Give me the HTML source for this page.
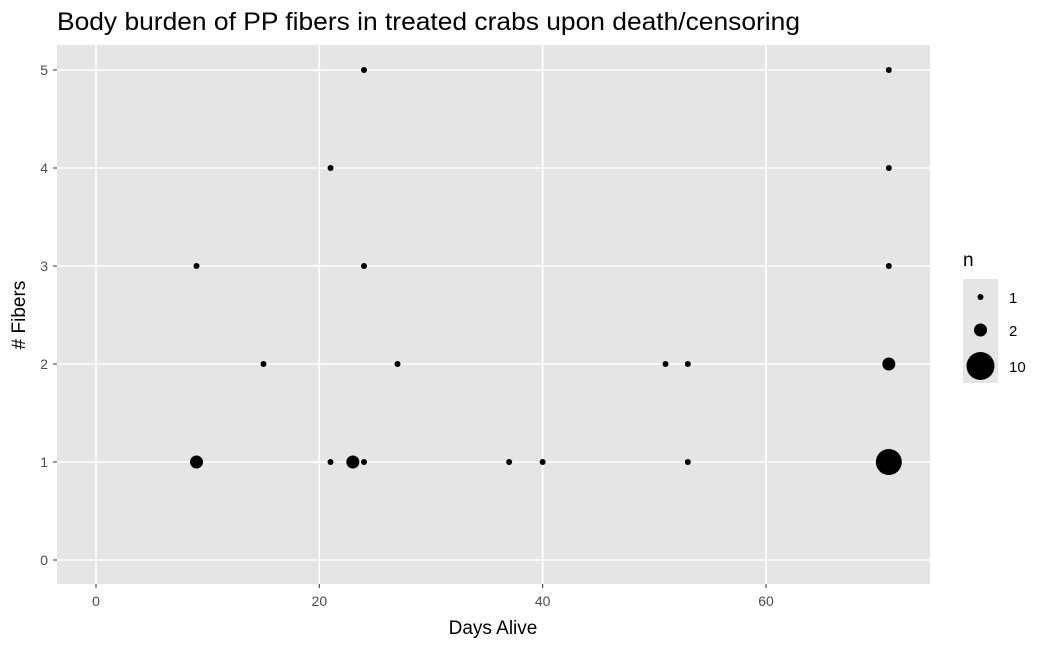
<!DOCTYPE html>
<html><head><meta charset="utf-8"><style>
body{margin:0;background:#fff;font-family:"Liberation Sans",Arial,sans-serif}
</style></head><body>
<svg id="c" width="1050" height="648" xmlns="http://www.w3.org/2000/svg">
<text x="57" y="30" font-size="25" textLength="743" lengthAdjust="spacingAndGlyphs" fill="#000">Body burden of PP fibers in treated crabs upon death/censoring</text>
<rect x="57" y="45" width="873" height="539" fill="#e5e5e5"/>
<g id="grid"></g><g id="pts"></g><g id="axes"></g>
<text x="493" y="634" font-size="19" text-anchor="middle">Days Alive</text>
<text transform="translate(25,315) rotate(-90)" font-size="19" text-anchor="middle"># Fibers</text>
<g>
<text x="963" y="266" font-size="19">n</text>
<rect x="963" y="279" width="35" height="104" fill="#e5e5e5"/>
<circle cx="980.5" cy="297" r="3" fill="#000"/>
<circle cx="980.5" cy="330" r="6.5" fill="#000"/>
<circle cx="980.5" cy="366" r="14" fill="#000"/>
<text x="1009" y="303" font-size="15">1</text>
<text x="1009" y="336" font-size="15">2</text>
<text x="1009" y="372" font-size="15">10</text>
</g>
</svg>
<script>
const days=[9,9,15,21,21,23,24,24,24,27,37,40,51,53,53,71,71,71,71,71];
const fibers=[3,1,2,4,1,1,5,3,1,2,1,1,2,2,1,5,4,3,2,1];
const counts=[1,2,1,1,1,2,1,1,1,1,1,1,1,1,1,1,1,1,2,10];
const xTicks=[0,20,40,60];
const yTicks=[0,1,2,3,4,5];
const X=v=>96+v*(766-96)/60;
const Y=v=>560-v*98;
const R=n=>n>=10?13:(n>=2?6.5:3);
const NS="http://www.w3.org/2000/svg";
function mk(t,a,p){const e=document.createElementNS(NS,t);for(const k in a)e.setAttribute(k,a[k]);p.appendChild(e);return e;}
const g=document.getElementById('grid'),ax=document.getElementById('axes'),pts=document.getElementById('pts');
xTicks.forEach(v=>{const l=mk('line',{x1:X(v),x2:X(v),y1:45,y2:584,stroke:'#fff','stroke-width':1.6},g);


mk('line',{x1:X(v),x2:X(v),y1:584,y2:588,stroke:'#333'},ax);
const t=mk('text',{x:X(v),y:606,'font-size':14,fill:'#4d4d4d','text-anchor':'middle'},ax);t.textContent=v;

});
yTicks.forEach(v=>{const l=mk('line',{x1:57,x2:930,y1:Y(v),y2:Y(v),stroke:'#fff','stroke-width':1.6},g);


mk('line',{x1:53,x2:57,y1:Y(v),y2:Y(v),stroke:'#333'},ax);
const t=mk('text',{x:48,y:Y(v)+5,'font-size':14,fill:'#4d4d4d','text-anchor':'end'},ax);t.textContent=v;

});
days.forEach((d,i)=>{const c=mk('circle',{cx:X(d),cy:Y(fibers[i]),r:R(counts[i]),fill:'#000'},pts);

});
</script>
</body></html>
